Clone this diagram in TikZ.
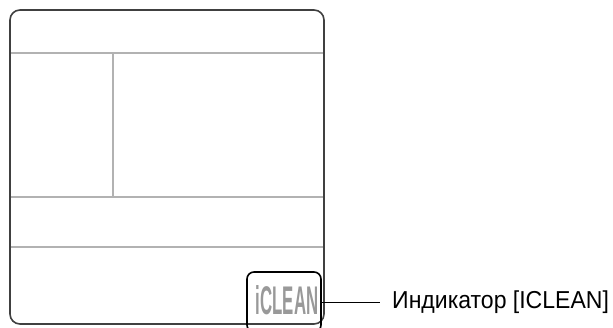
\documentclass[tikz,border=0pt]{standalone}
\usepackage{fontspec}
\setmainfont{Liberation Sans}
\usetikzlibrary{positioning}

\tikzset{
  panel/.style={draw=black!75, line width=1.6pt, rounded corners=10pt},
  divider/.style={draw=black!30, line width=1.4pt},
  indicator/.style={draw=black, line width=1.6pt, rounded corners=7pt, minimum width=74pt, minimum height=60pt, inner sep=0pt},
  callout/.style={inner sep=0pt, anchor=west, xscale=0.94, font=\fontsize{24.5}{27}\selectfont}
}

\begin{document}
\begin{tikzpicture}[x=1pt,y=-1pt]
		\useasboundingbox (0,0) rectangle (613,327);
		\draw [panel] (10,10) rectangle (324,324);

		\draw [divider] (11,53) -- (323,53);
		\draw [divider] (113,53) -- (113,197);
		\draw [divider] (11,197) -- (323,197);
		\draw [divider] (11,247) -- (323,247);

		\draw (284,302) node [indicator] (iclean) {};
		\draw (287,300) node [xscale=0.42, font=\fontsize{40}{42}\selectfont\bfseries, text=black!40] (icleantext) {iCLEAN};
		\draw (392,302) node [callout] (lbl) {Индикатор [ICLEAN]};

		\draw [line width=1pt] (iclean.east) -- ([xshift=-12pt]lbl.west);
	\end{tikzpicture}
\end{document}
